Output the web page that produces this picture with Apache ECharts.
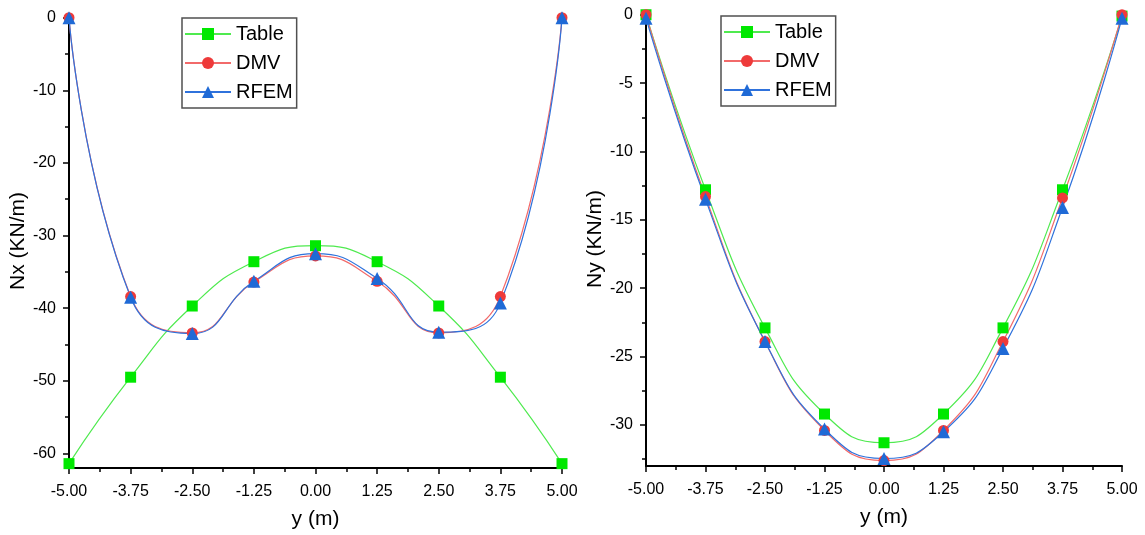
<!DOCTYPE html>
<html>
<head>
<meta charset="utf-8">
<script src="https://cdn.jsdelivr.net/npm/echarts@6/dist/echarts.min.js"></script>
<style>
html,body{margin:0;padding:0;background:#fff;}
#c{width:1145px;height:535px;}
</style>
</head>
<body>
<div id="c"></div>
<script>
// ---- data ----
const yPos = [-5, -3.75, -2.5, -1.25, 0, 1.25, 2.5, 3.75, 5];

const nxTable = [-61.4, -49.5, -39.7, -33.6, -31.4, -33.6, -39.7, -49.5, -61.4];
const nxDMV   = [0, -38.4, -43.4, -36.4, -32.8, -36.3, -43.4, -38.4, 0];
const nxRFEM  = [0, -38.5, -43.5, -36.3, -32.5, -35.9, -43.3, -39.3, 0];

const nyTable = [0, -12.8, -22.9, -29.2, -31.3, -29.2, -22.9, -12.8, -0.1];
const nyDMV   = [0, -13.3, -23.9, -30.4, -32.6, -30.4, -23.9, -13.4, 0];
const nyRFEM  = [-0.25, -13.5, -23.9, -30.3, -32.45, -30.5, -24.4, -14.1, -0.25];

const nxTickLabels = [0, -10, -20, -30, -40, -50, -60];
const nxMinorTicks = [-5, -15, -25, -35, -45, -55];
const nyTickLabels = [0, -5, -10, -15, -20, -25, -30];
const nyMinorTicks = [-2.5, -7.5, -12.5, -17.5, -22.5, -27.5, -32.5];

const seriesNames = ['Table', 'DMV', 'RFEM'];

// ---- styles ----
const FONT = 'Liberation Sans, Arial, sans-serif';
const styles = {
  Table: {line: '#4fea4f', mark: '#00e800', symbol: 'rect', size: 11},
  DMV:   {line: '#f26a6a', mark: '#ee3a3a', symbol: 'circle', size: 11},
  RFEM:  {line: '#2f72dc', mark: '#1f6ad6', symbol: 'triangle', size: 13}
};

function pairs(xs, ys) { return xs.map((x, i) => [x, ys[i]]); }

function mkSeries(name, ys, gi) {
  const s = styles[name];
  return {
    name: name, type: 'line', xAxisIndex: gi, yAxisIndex: gi * 2,
    data: pairs(yPos, ys), smooth: 0.5,
    symbol: s.symbol, symbolSize: s.size,
    lineStyle: {color: s.line, width: 1.2},
    itemStyle: {color: s.mark},
    emphasis: {disabled: true},
    animation: false
  };
}

function xAxisDef(gi) {
  return {
    type: 'value', gridIndex: gi, min: -5, max: 5, interval: 1.25,
    name: 'y (m)', nameLocation: 'middle', nameGap: 41,
    nameTextStyle: {fontFamily: FONT, fontSize: 21, color: '#000'},
    axisLine: {show: true, onZero: false, lineStyle: {color: '#000', width: 2}},
    axisTick: {show: true, inside: false, length: 6, lineStyle: {color: '#000', width: 1.5}},
    minorTick: {show: true, splitNumber: 2, length: 4, lineStyle: {color: '#000', width: 1.5}},
    axisLabel: {fontFamily: FONT, fontSize: 16, color: '#000', margin: 16,
      formatter: v => v.toFixed(2)},
    splitLine: {show: false}, minorSplitLine: {show: false}
  };
}

function yAxisDefs(gi, name, min, max, labels, minors) {
  return [{
    type: 'value', gridIndex: gi, min: min, max: max, position: 'left',
    name: name, nameLocation: 'middle', nameGap: 38,
    nameTextStyle: {fontFamily: FONT, fontSize: 21, color: '#000'},
    axisLine: {show: true, onZero: false, lineStyle: {color: '#000', width: 2}},
    axisTick: {show: true, inside: false, length: 6, customValues: labels,
      lineStyle: {color: '#000', width: 1.5}},
    axisLabel: {fontFamily: FONT, fontSize: 16, color: '#000', margin: 13, customValues: labels},
    splitLine: {show: false}
  }, {
    type: 'value', gridIndex: gi, min: min, max: max, position: 'left', offset: 0,
    axisLine: {show: false, onZero: false},
    axisTick: {show: true, inside: false, length: 4, customValues: minors,
      lineStyle: {color: '#000', width: 1.5}},
    axisLabel: {show: false},
    splitLine: {show: false}
  }];
}

function legendDef(left, top) {
  return {
    data: seriesNames, orient: 'vertical', left: left, top: top,
    itemWidth: 46, itemHeight: 15, itemGap: 9,
    padding: [6, 4, 6, 2],
    borderColor: '#505050', borderWidth: 1.5,
    textStyle: {fontFamily: FONT, fontSize: 20, color: '#000'},
    selectedMode: false
  };
}

const option = {
  backgroundColor: '#fff',
  animation: false,
  grid: [
    {left: 69, right: 583, top: 14, bottom: 62},
    {left: 646, right: 23, top: 12, bottom: 69}
  ],
  legend: [legendDef(182, 18), legendDef(721, 16)],
  xAxis: [xAxisDef(0), xAxisDef(1)],
  yAxis: [].concat(
    yAxisDefs(0, 'Nx (KN/m)', -62, 0.5, nxTickLabels, nxMinorTicks),
    yAxisDefs(1, 'Ny (KN/m)', -33, 0.2, nyTickLabels, nyMinorTicks)
  ),
  series: [
    mkSeries('Table', nxTable, 0),
    mkSeries('DMV', nxDMV, 0),
    mkSeries('RFEM', nxRFEM, 0),
    mkSeries('Table', nyTable, 1),
    mkSeries('DMV', nyDMV, 1),
    mkSeries('RFEM', nyRFEM, 1)
  ]
};

const chart = echarts.init(document.getElementById('c'), null, {renderer: 'canvas'});
chart.setOption(option);
</script>
</body>
</html>
